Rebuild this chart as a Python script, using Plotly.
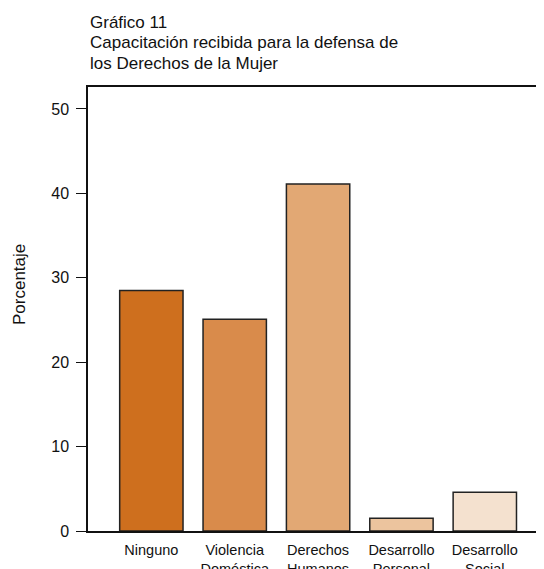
import plotly.graph_objects as go

categorias = ["Ninguno", "Violencia<br>Doméstica", "Derechos<br>Humanos",
              "Desarrollo<br>Personal", "Desarrollo<br>Social"]
porcentajes = [28.5, 25.1, 41.1, 1.5, 4.6]
colores = ["#CE6F1E", "#D98B4B", "#E2A874", "#ECC49E", "#F4E1CF"]
ticks_y = [0, 10, 20, 30, 40, 50]
titulo = ["Gráfico 11",
          "Capacitación recibida para la defensa de",
          "los Derechos de la Mujer"]

# the page adds an 8px body margin, so the figure is a bit smaller than the window
W, H = 536, 561
ML, MT, MB = 80, 79, 38
plot_h = H - MT - MB


def py(screen_y):
    # screen pixel (window) -> paper y
    return (H - MB - (screen_y - 8)) / plot_h


fig = go.Figure()
fig.add_trace(
    go.Bar(
        x=categorias,
        y=porcentajes,
        marker=dict(color=colores, line=dict(color="#222222", width=1.5)),
        hoverinfo="x+y",
    )
)

notas = []
for texto, sy in zip(titulo, [22, 43, 63]):
    notas.append(dict(
        text=texto, xref="paper", yref="paper", x=0, y=py(sy),
        xanchor="left", yanchor="middle", showarrow=False,
        font=dict(size=17, color="#111111"),
    ))
notas.append(dict(
    text="Porcentaje", xref="paper", yref="paper",
    x=(19 - 8 - ML) / (W - ML), y=py(285),
    xanchor="center", yanchor="middle", textangle=-90, showarrow=False,
    font=dict(size=17, color="#111111"),
))

fig.update_layout(
    width=W,
    height=H,
    margin=dict(l=ML, r=0, t=MT, b=MB),
    paper_bgcolor="white",
    plot_bgcolor="white",
    font=dict(family="Liberation Sans, Arial, sans-serif", size=14, color="#111111"),
    bargap=0.24,
    showlegend=False,
    xaxis=dict(
        range=[-0.76, 4.71],
        showline=True,
        linecolor="#111111",
        linewidth=1.5,
        mirror=True,
        ticks="",
        showgrid=False,
        tickfont=dict(size=14.5),
        ticklabelstandoff=5,
        automargin=False,
    ),
    yaxis=dict(
        range=[0, 52.6],
        tickvals=ticks_y,
        showline=True,
        linecolor="#111111",
        linewidth=1.5,
        ticks="outside",
        ticklen=10,
        tickcolor="#111111",
        showgrid=False,
        zeroline=False,
        tickfont=dict(size=16),
        ticklabelstandoff=4,
        automargin=False,
    ),
    annotations=notas,
)

fig.write_html("out.html")
